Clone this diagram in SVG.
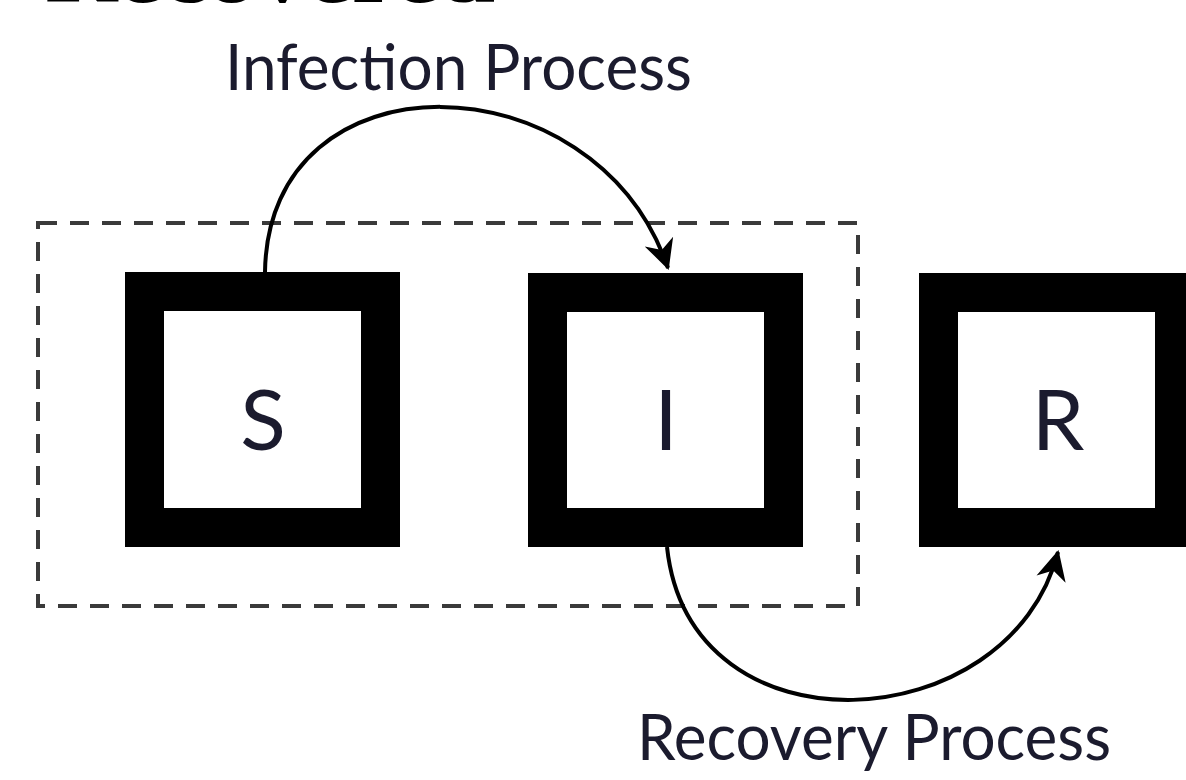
<svg xmlns="http://www.w3.org/2000/svg" width="1186" height="780" viewBox="0 0 1186 780">
  <style>
    .box { fill: #ffffff; stroke: #000000; stroke-width: 39; }
    .lbl { font-family: Lato, "Open Sans", "Liberation Sans", sans-serif; fill: #1b1b2e; }
    .node-lbl { font-size: 84px; text-anchor: middle; }
    .proc { font-size: 64px; }
    .conn { fill: none; stroke: #000000; stroke-width: 4; }
    .group { fill: none; stroke: #3a3a3a; stroke-width: 4; stroke-dasharray: 19 13; }
  </style>
  <defs>
    <marker id="arrow" markerUnits="userSpaceOnUse" viewBox="-30 -17 34 34" refX="0" refY="0" markerWidth="34" markerHeight="34" orient="auto">
      <path d="M2,0 L-28,-15 L-19,0 L-28,15 Z" fill="#000000"/>
    </marker>
  </defs>
  <rect width="1186" height="780" fill="#ffffff"/>

  <text x="45" y="2" font-family="'Liberation Serif', 'DejaVu Serif', serif" font-size="84" font-weight="bold" fill="#000000" textLength="450" lengthAdjust="spacingAndGlyphs">Recovered</text>

  <rect id="group-box" class="group" x="38" y="223" width="820" height="383"/>

  <g id="node-S">
    <rect class="box" x="144.5" y="291.5" width="236" height="236"/>
    <text class="lbl node-lbl" x="263" y="450">S</text>
  </g>
  <g id="node-I">
    <rect class="box" x="547.5" y="292.5" width="236" height="235"/>
    <text class="lbl node-lbl" x="666" y="450">I</text>
  </g>
  <g id="node-R">
    <rect class="box" x="938.5" y="292.5" width="236" height="235"/>
    <text class="lbl node-lbl" x="1058" y="450">R</text>
  </g>

  <g id="connectors">
    <path class="conn" d="M265,272 C268,50 595,55 668,268" marker-end="url(#arrow)"/>
    <path class="conn" d="M667,547 C690,760 1010,740 1058,552" marker-end="url(#arrow)"/>
  </g>

  <text class="lbl proc" x="225" y="90" textLength="467" lengthAdjust="spacingAndGlyphs">Infection Process</text>
  <text class="lbl proc" x="637" y="760" font-size="60" textLength="474" lengthAdjust="spacingAndGlyphs">Recovery Process</text>
</svg>
